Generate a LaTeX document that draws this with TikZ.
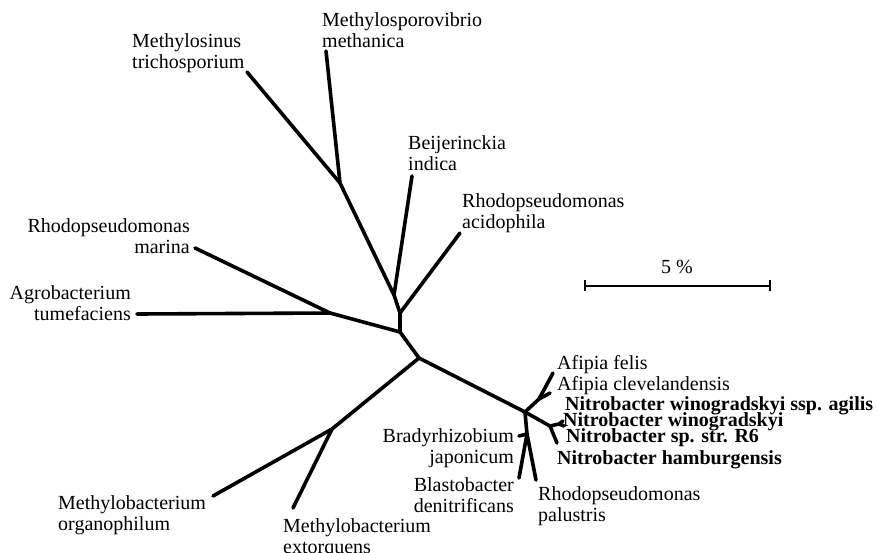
\documentclass[tikz,border=0pt]{standalone}
\usepackage{fontspec}
\setmainfont{Liberation Serif}
\begin{document}
\begin{tikzpicture}[x=1pt,y=-1pt,
  branch/.style={line width=3.6pt,line cap=round,line join=round},
  scalebar/.style={line width=2pt},
  lab/.style={inner sep=0pt,font=\fontsize{20}{21.5}\selectfont},
  labl/.style={lab,align=left,anchor=north west},
  labr/.style={lab,align=right,anchor=north east},
  blab/.style={labl,font=\fontsize{20}{21.5}\selectfont\bfseries}]
\useasboundingbox (0,0) rectangle (877,552);
% coordinates of tree
\coordinate (MS) at (326,51);
\coordinate (MT) at (247,72);
\coordinate (J1) at (340,183);
\coordinate (J2) at (394,295);
\coordinate (BI) at (412,176);
\coordinate (J3) at (400,313);
\coordinate (RA) at (460,233);
\coordinate (JA) at (400,332);
\coordinate (RM) at (195,248);
\coordinate (J4) at (330,313);
\coordinate (AT) at (137,314);
\coordinate (JB) at (419,358);
\coordinate (J5) at (332,429);
\coordinate (MO) at (213,496);
\coordinate (ME) at (293,508);
\coordinate (JC) at (525,412);
\coordinate (JD) at (539,399);
\coordinate (AF) at (553,373);
\coordinate (AC) at (550,393);
\coordinate (JN) at (550,426);
\coordinate (JN2) at (559,424);
\coordinate (NA) at (563,421);
\coordinate (NW) at (564,426);
\coordinate (NR) at (557,443);
\coordinate (JE) at (527,434);
\coordinate (BJ) at (519,436);
\coordinate (BD) at (519,478);
\coordinate (RP) at (536,480);
% branches
\draw[branch] (MS) -- (J1) -- (J2) -- (J3) -- (JA) -- (JB) -- (JC) -- (JD) -- (AF);
\draw[branch] (MT) -- (J1);
\draw[branch] (BI) -- (J2);
\draw[branch] (RA) -- (J3);
\draw[branch] (JA) -- (J4) -- (AT);
\draw[branch] (RM) -- (J4);
\draw[branch] (JB) -- (J5) -- (MO);
\draw[branch] (ME) -- (J5);
\draw[branch] (JD) -- (AC);
\draw[branch] (JC) -- (JN) -- (JN2) -- (NA);
\draw[branch] (JN2) -- (NW);
\draw[branch] (JN) -- (NR);
\draw[branch] (JC) -- (JE) -- (BD);
\draw[branch] (JE) -- (RP);
\draw[branch] (JE) -- (BJ);
% labels
\node[labl] (lMS) at (322,12) {Methylosporovibrio\\methanica};
\node[labl] (lMT) at (132,33) {Methylosinus\\trichosporium};
\node[labl] (lBI) at (408,135) {Beijerinckia\\indica};
\node[labl] (lRA) at (462,193) {Rhodopseudomonas\\acidophila};
\node[labr] (lRM) at (190,218) {Rhodopseudomonas\\marina};
\node[labr] (lAT) at (131,285) {Agrobacterium\\tumefaciens};
\node[labl] (lMO) at (58,495) {Methylobacterium\\organophilum};
\node[labl] (lME) at (283,518) {Methylobacterium\\extorquens};
\node[labr] (lBJ) at (514,428) {Bradyrhizobium\\japonicum};
\node[labr] (lBD) at (514,477) {Blastobacter\\denitrificans};
\node[labl] (lRP) at (538,486) {Rhodopseudomonas\\palustris};
\node[labl] (lAF) at (557,355) {Afipia felis};
\node[labl] (lAC) at (557,376) {Afipia clevelandensis};
\node[blab] (lNA) at (565,396) {Nitrobacter winogradskyi ssp. agilis};
\node[blab] (lNW) at (563,412) {Nitrobacter winogradskyi};
\node[blab] (lNR) at (566,428) {Nitrobacter sp. str. R6};
\node[blab] (lNH) at (557,450) {Nitrobacter hamburgensis};
% scale bar
\coordinate (S1) at (585,286);
\coordinate (S2) at (770,286);
\draw[scalebar] (S1) -- (S2);
\draw[scalebar] ([yshift=-5pt]S1) -- ([yshift=6pt]S1);
\draw[scalebar] ([yshift=-5pt]S2) -- ([yshift=6pt]S2);
\node[lab,anchor=north] (lS) at (677,260) {5 \%};
\end{tikzpicture}
\end{document}
